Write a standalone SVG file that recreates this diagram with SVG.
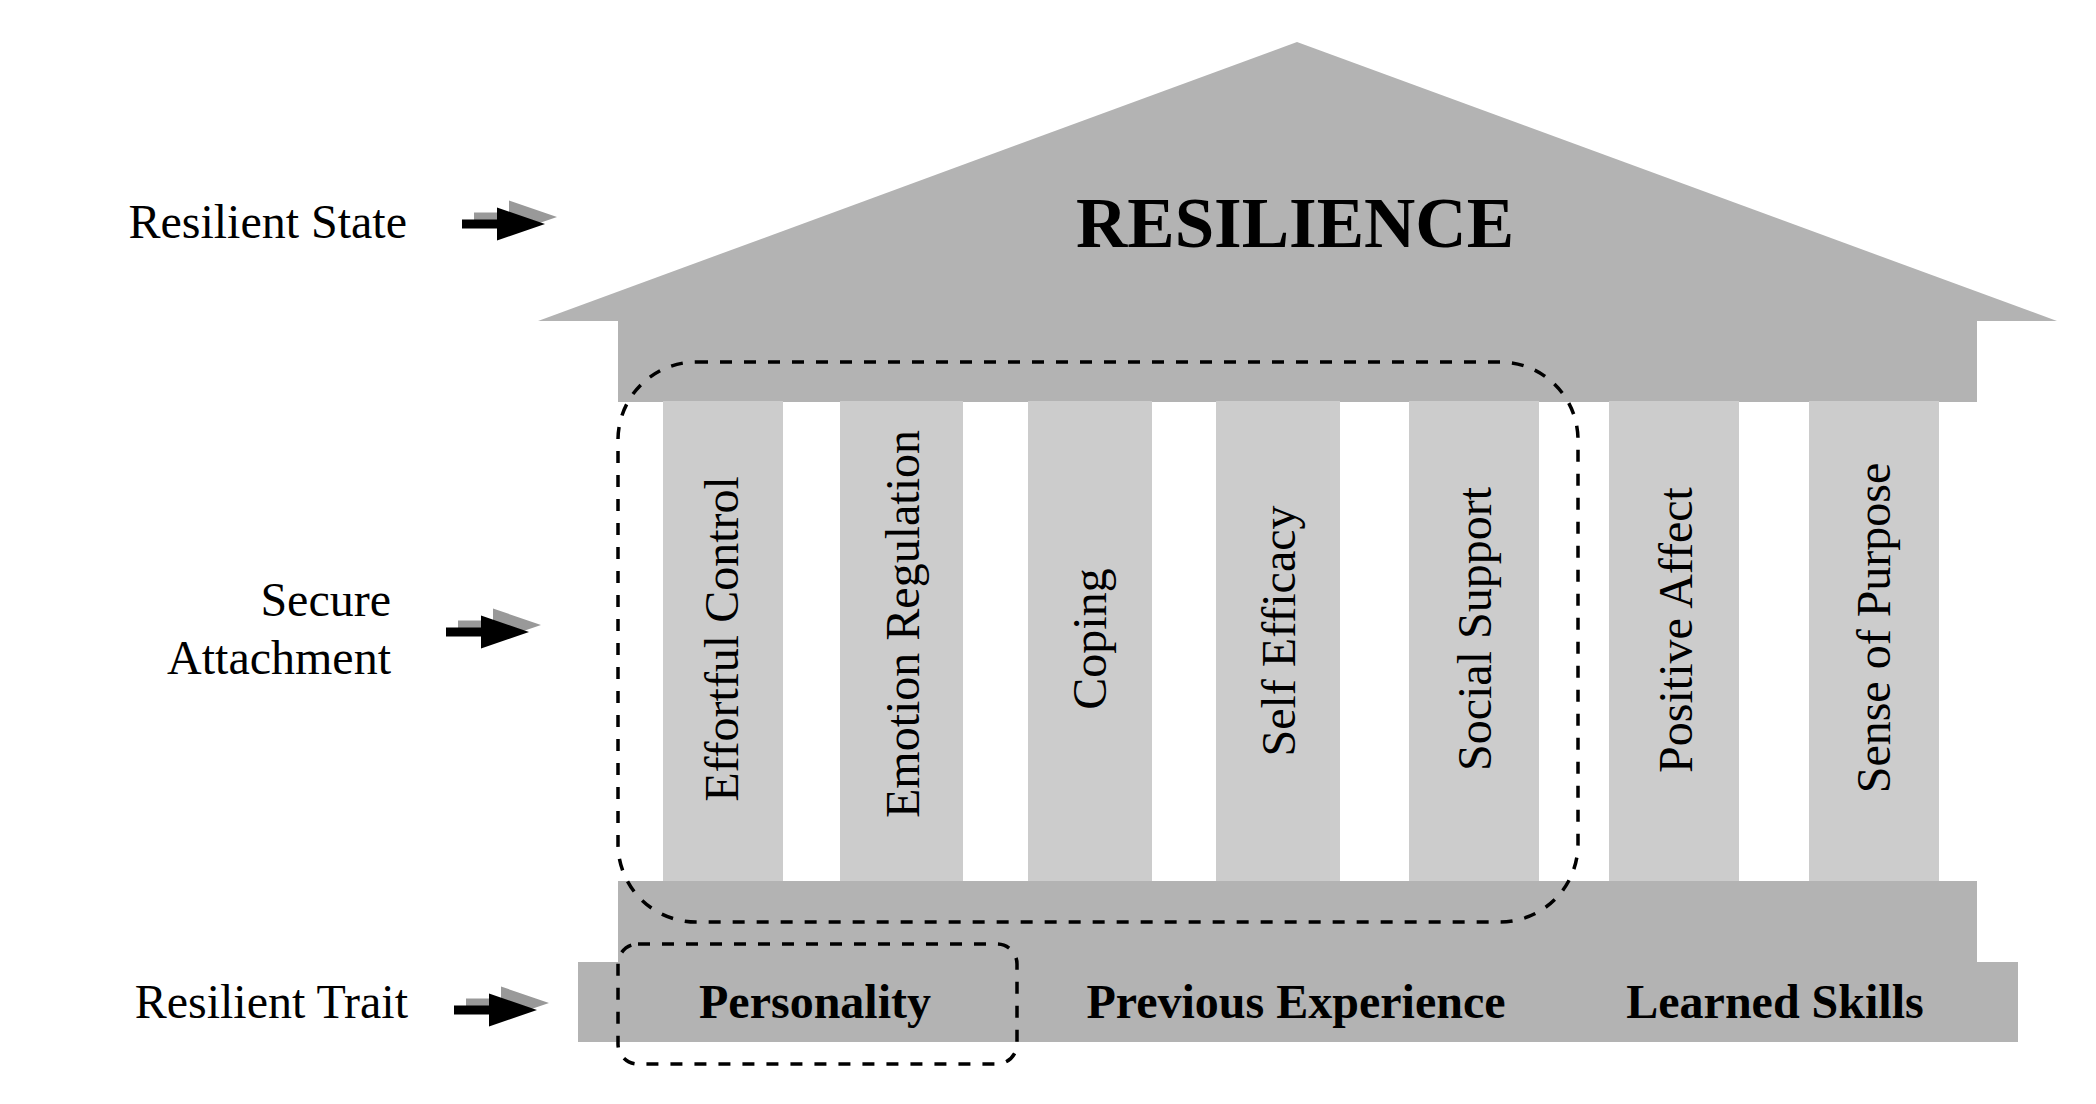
<svg xmlns="http://www.w3.org/2000/svg" xmlns:xlink="http://www.w3.org/1999/xlink" width="2096" height="1104" viewBox="0 0 2096 1104">
  <style>
    .body { fill: #b3b3b3; }
    .col { fill: #cccccc; }
    .lbl { font-family: "Liberation Serif", "Times New Roman", serif; font-size: 48px; fill: #000; }
    .col-lbl { font-family: "Liberation Serif", "Times New Roman", serif; font-size: 48px; fill: #000; text-anchor: middle; }
    .base-lbl { font-family: "Liberation Serif", "Times New Roman", serif; font-size: 48px; font-weight: bold; fill: #000; text-anchor: middle; }
    .title { font-family: "Liberation Serif", "Times New Roman", serif; font-size: 71px; font-weight: bold; fill: #000; text-anchor: middle; }
    .group-box { fill: none; stroke: #000; stroke-width: 3.5; stroke-dasharray: 12 12; }
  </style>
  <defs>
    <path id="arrowShape" d="M0,-4.5 H35 V-16.5 L83,0 L35,16.5 V4.5 H0 Z"/>
    <g id="arrow">
      <use xlink:href="#arrowShape" href="#arrowShape" transform="translate(12,-7)" fill="#999999"/>
      <use xlink:href="#arrowShape" href="#arrowShape" fill="#000000"/>
    </g>
  </defs>
  <rect width="2096" height="1104" fill="#ffffff"/>

  <g id="roof">
    <polygon class="body" points="538,321 1297,42 2057,321"/>
    <rect class="body" x="618" y="320" width="1359" height="82"/>
    <text class="title" x="1295" y="247">RESILIENCE</text>
  </g>

  <g id="col-effortful-control">
    <rect class="col" x="663" y="401" width="120" height="481"/>
    <text class="col-lbl" transform="translate(738,639) rotate(-90)">Effortful Control</text>
  </g>
  <g id="col-emotion-regulation">
    <rect class="col" x="840" y="401" width="123" height="481"/>
    <text class="col-lbl" transform="translate(919,624) rotate(-90)">Emotion Regulation</text>
  </g>
  <g id="col-coping">
    <rect class="col" x="1028" y="401" width="124" height="481"/>
    <text class="col-lbl" transform="translate(1106,639) rotate(-90)">Coping</text>
  </g>
  <g id="col-self-efficacy">
    <rect class="col" x="1216" y="401" width="124" height="481"/>
    <text class="col-lbl" transform="translate(1295,631) rotate(-90)">Self Efficacy</text>
  </g>
  <g id="col-social-support">
    <rect class="col" x="1409" y="401" width="130" height="481"/>
    <text class="col-lbl" transform="translate(1491,629) rotate(-90)">Social Support</text>
  </g>
  <g id="col-positive-affect">
    <rect class="col" x="1609" y="401" width="130" height="481"/>
    <text class="col-lbl" transform="translate(1692,630) rotate(-90)">Positive Affect</text>
  </g>
  <g id="col-sense-of-purpose">
    <rect class="col" x="1809" y="401" width="130" height="481"/>
    <text class="col-lbl" transform="translate(1890,628) rotate(-90)">Sense of Purpose</text>
  </g>

  <g id="base">
    <rect class="body" x="618" y="881" width="1359" height="82"/>
    <rect class="body" x="578" y="962" width="1440" height="80"/>
  </g>
  <g id="base-personality">
    <text class="base-lbl" x="815" y="1018">Personality</text>
  </g>
  <g id="base-previous-experience">
    <text class="base-lbl" x="1296" y="1018">Previous Experience</text>
  </g>
  <g id="base-learned-skills">
    <text class="base-lbl" x="1775" y="1018">Learned Skills</text>
  </g>

  <g id="label-resilient-state">
    <text class="lbl" x="407" y="238" text-anchor="end">Resilient State</text>
  </g>
  <g id="label-secure-attachment">
    <text class="lbl" x="391" y="616" text-anchor="end">Secure</text>
    <text class="lbl" x="391" y="674" text-anchor="end">Attachment</text>
  </g>
  <g id="label-resilient-trait">
    <text class="lbl" x="408" y="1018" text-anchor="end">Resilient Trait</text>
  </g>

  <g id="group-boxes">
    <rect class="group-box" x="618" y="362" width="960" height="560" rx="78" ry="78"/>
    <rect class="group-box" x="618" y="944" width="399" height="120" rx="20" ry="20"/>
  </g>

  <g id="connectors">
    <use xlink:href="#arrow" href="#arrow" transform="translate(462,224)"/>
    <use xlink:href="#arrow" href="#arrow" transform="translate(446,632)"/>
    <use xlink:href="#arrow" href="#arrow" transform="translate(454,1010)"/>
  </g>
</svg>
